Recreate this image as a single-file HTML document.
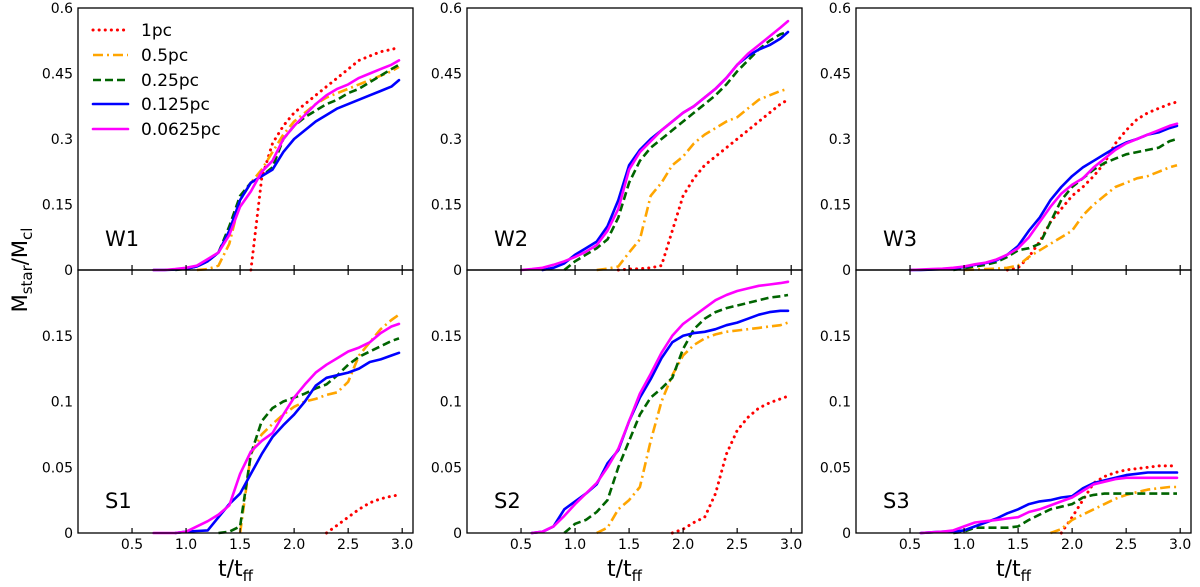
<!DOCTYPE html>
<html><head><meta charset="utf-8"><style>
html,body{margin:0;padding:0;background:#fff;}
svg{display:block;font-family:"DejaVu Sans","Liberation Sans",sans-serif;}
</style></head><body>
<svg id="fig" width="1200" height="587" viewBox="0 0 1200 587" xmlns="http://www.w3.org/2000/svg"></svg>
<script>
// ---- data ----
const seriesNames = ["1pc","0.5pc","0.25pc","0.125pc","0.0625pc"];
const xTicks = [0.5,1.0,1.5,2.0,2.5,3.0];
const xTickLabels = ["0.5","1.0","1.5","2.0","2.5","3.0"];
const topTicks = [0,0.15,0.3,0.45,0.6];
const topTickLabels = ["0","0.15","0.3","0.45","0.6"];
const botTicks = [0,0.05,0.1,0.15];
const botTickLabels = ["0","0.05","0.1","0.15"];
const panelLabels = ["W1","W2","W3","S1","S2","S3"];
// start times (t/tff) of each series, order: 1pc,0.5pc,0.25pc,0.125pc,0.0625pc; sampled every 0.1, last point at 2.97
const W1_start = [1.6,1.1,0.9,0.7,0.7];
const W1_1pc = [0,0.21,0.29,0.33,0.36,0.38,0.40,0.42,0.44,0.46,0.48,0.49,0.50,0.505,0.51];
const W1_05pc = [0,0.002,0.01,0.06,0.16,0.2,0.23,0.27,0.31,0.34,0.36,0.38,0.395,0.405,0.415,0.425,0.435,0.445,0.455,0.465];
const W1_025pc = [0,0.003,0.008,0.02,0.04,0.1,0.17,0.2,0.215,0.235,0.30,0.33,0.35,0.365,0.38,0.39,0.405,0.415,0.43,0.445,0.46,0.47];
const W1_0125pc = [0,0,0.001,0.003,0.008,0.02,0.04,0.09,0.16,0.2,0.215,0.23,0.27,0.30,0.32,0.34,0.355,0.37,0.38,0.39,0.40,0.41,0.42,0.435];
const W1_00625pc = [0,0,0.002,0.005,0.01,0.025,0.04,0.08,0.145,0.18,0.225,0.25,0.30,0.33,0.355,0.38,0.40,0.415,0.425,0.44,0.45,0.46,0.47,0.48];
const W2_start = [1.4,1.2,0.9,0.7,0.5];
const W2_1pc = [0,0.002,0.003,0.005,0.01,0.09,0.17,0.21,0.24,0.26,0.28,0.30,0.32,0.34,0.36,0.38,0.39];
const W2_05pc = [0,0.003,0.008,0.04,0.07,0.17,0.2,0.24,0.26,0.29,0.31,0.325,0.34,0.35,0.37,0.39,0.40,0.41,0.415];
const W2_025pc = [0,0.02,0.035,0.05,0.07,0.12,0.2,0.25,0.28,0.3,0.32,0.34,0.36,0.38,0.4,0.425,0.455,0.48,0.505,0.525,0.54,0.545];
const W2_0125pc = [0,0.005,0.015,0.035,0.05,0.065,0.1,0.16,0.24,0.275,0.3,0.32,0.34,0.36,0.375,0.395,0.415,0.44,0.47,0.49,0.505,0.515,0.53,0.545];
const W2_00625pc = [0,0.002,0.005,0.012,0.02,0.03,0.042,0.057,0.09,0.14,0.23,0.27,0.295,0.32,0.34,0.36,0.375,0.395,0.415,0.44,0.47,0.495,0.515,0.535,0.555,0.57];
const W3_start = [1.4,1.0,0.9,0.5,0.5];
const W3_1pc = [0,0.005,0.03,0.065,0.11,0.14,0.17,0.19,0.215,0.245,0.29,0.32,0.345,0.36,0.37,0.38,0.385];
const W3_05pc = [0,0.001,0.002,0.003,0.005,0.01,0.03,0.045,0.06,0.075,0.09,0.125,0.15,0.17,0.19,0.2,0.21,0.215,0.225,0.235,0.24];
const W3_025pc = [0,0.004,0.008,0.012,0.018,0.03,0.045,0.05,0.06,0.11,0.16,0.19,0.21,0.23,0.245,0.255,0.265,0.27,0.275,0.28,0.295,0.30];
const W3_0125pc = [0,0,0.001,0.002,0.004,0.007,0.012,0.016,0.022,0.035,0.055,0.09,0.12,0.16,0.19,0.215,0.235,0.25,0.265,0.28,0.292,0.30,0.31,0.315,0.325,0.33];
const W3_00625pc = [0,0.001,0.002,0.003,0.005,0.008,0.013,0.017,0.024,0.035,0.05,0.075,0.11,0.145,0.175,0.195,0.21,0.235,0.255,0.275,0.29,0.30,0.31,0.32,0.33,0.335];
const S1_start = [2.3,1.5,1.3,0.9,0.7];
const S1_1pc = [0,0.006,0.012,0.018,0.023,0.026,0.028,0.029];
const S1_05pc = [0,0.06,0.075,0.083,0.09,0.096,0.1,0.102,0.105,0.107,0.115,0.135,0.145,0.155,0.162,0.166];
const S1_025pc = [0,0.001,0.005,0.06,0.085,0.095,0.1,0.103,0.106,0.11,0.113,0.12,0.128,0.134,0.138,0.142,0.146,0.148];
const S1_0125pc = [0,0.001,0.0015,0.002,0.012,0.022,0.03,0.045,0.06,0.073,0.082,0.09,0.1,0.112,0.118,0.12,0.122,0.125,0.13,0.132,0.135,0.137];
const S1_00625pc = [0,0,0,0.001,0.005,0.009,0.014,0.021,0.045,0.062,0.07,0.076,0.09,0.103,0.113,0.122,0.128,0.133,0.138,0.141,0.145,0.152,0.157,0.159];
const S2_start = [1.9,1.2,0.9,0.6,0.6];
const S2_1pc = [0,0.003,0.008,0.012,0.03,0.06,0.078,0.088,0.095,0.099,0.102,0.104];
const S2_05pc = [0,0.004,0.018,0.025,0.035,0.07,0.1,0.12,0.135,0.143,0.148,0.151,0.153,0.154,0.155,0.156,0.157,0.158,0.16];
const S2_025pc = [0,0.007,0.01,0.016,0.025,0.05,0.07,0.09,0.103,0.11,0.118,0.14,0.155,0.163,0.168,0.171,0.173,0.175,0.177,0.179,0.18,0.181];
const S2_0125pc = [0,0.001,0.005,0.018,0.024,0.03,0.037,0.053,0.063,0.085,0.103,0.117,0.133,0.145,0.15,0.152,0.153,0.155,0.158,0.16,0.163,0.166,0.168,0.169,0.169];
const S2_00625pc = [0,0.001,0.005,0.013,0.022,0.03,0.038,0.05,0.064,0.085,0.106,0.121,0.137,0.15,0.159,0.165,0.171,0.177,0.181,0.184,0.186,0.188,0.189,0.19,0.191];
const S3_start = [1.9,1.8,0.9,0.6,0.6];
const S3_1pc = [0,0.012,0.025,0.038,0.043,0.046,0.048,0.049,0.05,0.051,0.051,0.051];
const S3_05pc = [0,0.003,0.01,0.014,0.018,0.022,0.026,0.029,0.031,0.033,0.034,0.035,0.035];
const S3_025pc = [0,0.001,0.004,0.004,0.004,0.004,0.005,0.01,0.014,0.018,0.02,0.022,0.027,0.029,0.03,0.03,0.03,0.03,0.03,0.03,0.03,0.03];
const S3_0125pc = [0,0.0005,0.001,0.001,0.002,0.005,0.008,0.011,0.015,0.018,0.022,0.024,0.025,0.027,0.028,0.034,0.038,0.04,0.042,0.044,0.045,0.046,0.046,0.046,0.046];
const S3_00625pc = [0,0.0005,0.001,0.002,0.005,0.008,0.009,0.01,0.011,0.012,0.016,0.018,0.021,0.024,0.027,0.032,0.037,0.039,0.041,0.042,0.042,0.042,0.042,0.042,0.042];

const panelStarts = [W1_start,W2_start,W3_start,S1_start,S2_start,S3_start];
const panelSeries = [
  [W1_1pc,W1_05pc,W1_025pc,W1_0125pc,W1_00625pc],
  [W2_1pc,W2_05pc,W2_025pc,W2_0125pc,W2_00625pc],
  [W3_1pc,W3_05pc,W3_025pc,W3_0125pc,W3_00625pc],
  [S1_1pc,S1_05pc,S1_025pc,S1_0125pc,S1_00625pc],
  [S2_1pc,S2_05pc,S2_025pc,S2_0125pc,S2_00625pc],
  [S3_1pc,S3_05pc,S3_025pc,S3_0125pc,S3_00625pc]
];

// ---- styles ----
const colors = ["#ff0000","#ffa500","#006400","#0000ff","#ff00ff"];
const dashes = ["0.1,6","10,4,2,4","8,4","",""];
const caps = ["round","butt","butt","round","round"];
const widths = [3,2.6,2.6,2.6,2.6];
const NS = "http://www.w3.org/2000/svg";
const svg = document.getElementById("fig");
function mk(tag, attrs, parent){
  const e = document.createElementNS(NS, tag);
  for (const k in attrs) e.setAttribute(k, attrs[k]);
  (parent||svg).appendChild(e);
  return e;
}
const colLeft = [78,467,856];
const W = 335;
const rowTop = [8,270];
const H = 262;
const xMax = 3.1;

for (let p = 0; p < 6; p++) {
  const col = p % 3, row = Math.floor(p/3);
  const L = colLeft[col], T = rowTop[row], B = T + H + (row===1?1:0);
  const yMax = row === 0 ? 0.6 : 0.2;
  const xs = t => L + t / xMax * W;
  const ys = v => B - v / yMax * (B - T);
  const g = mk("g", {});
  
  
  for (let s = 0; s < 5; s++) {
    const vals = panelSeries[p][s], st = panelStarts[p][s];
    const pts = vals.map((v,i) => {
      const t = (i === vals.length-1) ? 2.97 : st + 0.1*i;
      return xs(t).toFixed(1) + "," + ys(v).toFixed(1);
    });
    const pl = mk("polyline", {points: pts.join(" "), fill:"none", stroke: colors[s], "stroke-width": widths[s], "stroke-linejoin":"round", "stroke-linecap": caps[s]}, g);
    if (dashes[s]) pl.setAttribute("stroke-dasharray", dashes[s]);
    
    
  }
  const fr = mk("rect", {x:L, y:T, width:W, height:B-T, fill:"none", stroke:"#000", "stroke-width":1.3}, g);
  
  
  xTicks.forEach((t,i) => {
    const x = xs(t);
    mk("line", {x1:x, x2:x, y1:B, y2:B-5, stroke:"#000", "stroke-width":1.2}, g);
    if (row === 0) mk("line", {x1:x, x2:x, y1:B, y2:B+5, stroke:"#000", "stroke-width":1.2}, g);
    if (row === 1) {
      const tx = mk("text", {x:x, y:549, "text-anchor":"middle", "font-size":14}, g);
      tx.textContent = xTickLabels[i];
      
      
    }
  });
  const yt = row === 0 ? topTicks : botTicks;
  const yl = row === 0 ? topTickLabels : botTickLabels;
  yt.forEach((v,i) => {
    const tx = mk("text", {x:L-5, y:ys(v)+5, "text-anchor":"end", "font-size":14}, g);
    tx.textContent = yl[i];
    
    
  });
  const pt = mk("text", {x:L+27, y: row===0 ? 246 : 508, "font-size":21}, g);
  pt.textContent = panelLabels[p];
  
  
  if (row === 1) {
    const xt = mk("text", {x:L+W/2-10, y:576, "text-anchor":"middle", "font-size":22}, g);
    xt.innerHTML = 't/t<tspan font-size="15" dy="5">ff</tspan>';
    
    
  }
}
const ytl = mk("text", {x:0, y:0, "text-anchor":"middle", "font-size":21, transform:"translate(27,270) rotate(-90)"});
ytl.innerHTML = 'M<tspan font-size="15" dy="5">star</tspan><tspan dy="-5">/M</tspan><tspan font-size="15" dy="5">cl</tspan>';


const lg = mk("g", {});


const legY = [30,55,80,104,129];
for (let s = 0; s < 5; s++) {
  const ln = mk("line", {x1:93, x2:128, y1:legY[s], y2:legY[s], stroke:colors[s], "stroke-width":widths[s], "stroke-linecap":caps[s]}, lg);
  if (dashes[s]) ln.setAttribute("stroke-dasharray", dashes[s]);
  
  
  const tx = mk("text", {x:141, y:legY[s]+6, "font-size":17}, lg);
  tx.textContent = seriesNames[s];
  
  
}
</script>
</body></html>
